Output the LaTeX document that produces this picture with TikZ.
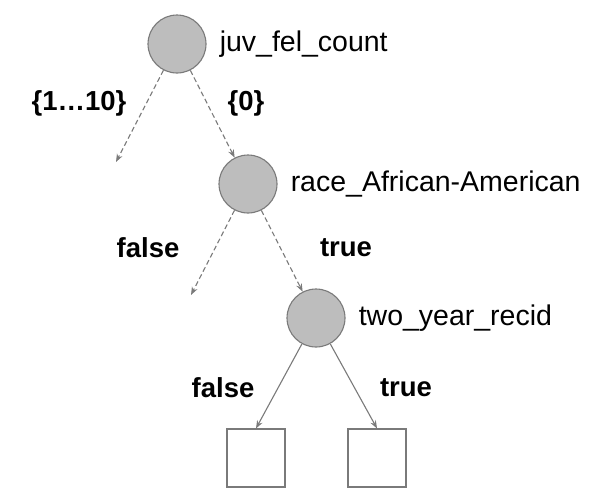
\documentclass[tikz,border=0pt]{standalone}
\usepackage{fontspec}
\setmainfont{Liberation Sans}
\usepackage{xcolor}
\usetikzlibrary{arrows.meta, positioning}

\definecolor{nodegray}{HTML}{BDBDBD}
\definecolor{linegray}{HTML}{7A7A7A}

\begin{document}
\begin{tikzpicture}[
    x=1pt, y=-1pt,
    split/.style={circle, draw=linegray, fill=nodegray, line width=1.1pt, minimum size=58pt, inner sep=0pt},
    leaf/.style={rectangle, draw=linegray, line width=1.1pt, minimum size=58pt, inner sep=0pt},
    attr/.style={right=13pt, font=\fontsize{28.5}{31}\selectfont, inner sep=0pt},
    branch/.style={font=\bfseries\fontsize{27.5}{30}\selectfont, inner sep=0pt},
    arrow/.style={-{Stealth[length=8pt, width=6pt]}, draw=linegray, line width=1.1pt},
    open_arrow/.style={arrow, dashed, dash pattern=on 5pt off 3pt}
]
\useasboundingbox (0,0) rectangle (598,499);

% Nodes
\node[split] (fel) at (177,44) {};
\node[attr] at (fel.east) {juv\_fel\_count};
\node[split] (race) at (248,184) {};
\node[attr] at (race.east) {race\_African-American};
\node[split] (recid) at (316,318) {};
\node[attr] at (recid.east) {two\_year\_recid};
\node[leaf] (no) at (256,458) {};
\node[leaf] (yes) at (377,458) {};

% Open ends
\coordinate (fel_end) at (116,162);
\coordinate (race_end) at (191,295);

% Branch labels
\node[branch] (l1) at (79,103) {\{1…10\}};
\node[branch] (l2) at (246,103) {\{0\}};
\node[branch] (l3) at (148,248) {false};
\node[branch] (l4) at (346,248) {true};
\node[branch] (l5) at (223,388) {false};
\node[branch] (l6) at (406,388) {true};

% Arrows
\draw[open_arrow] (fel) -- (fel_end);
\draw[open_arrow] (fel) -- (race);
\draw[open_arrow] (race) -- (race_end);
\draw[open_arrow] (race) -- (recid);
\draw[arrow] (recid) -- (no.north);
\draw[arrow] (recid) -- (yes.north);

\end{tikzpicture}
\end{document}
